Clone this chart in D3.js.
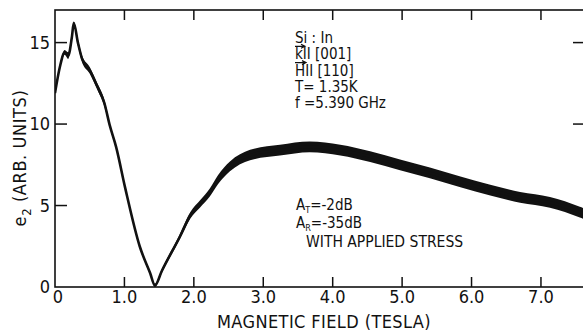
<!DOCTYPE html>
<html lang="en">
<head>
<meta charset="utf-8">
<title>e2 vs magnetic field</title>
<script src="https://cdn.jsdelivr.net/npm/d3@7/dist/d3.min.js"></script>
<style>
  body { margin: 0; background: #fff; }
  text { font-family: "DejaVu Sans Condensed", "Liberation Sans Narrow", "DejaVu Sans", sans-serif; fill: #111; }
</style>
</head>
<body>
<div id="chart"></div>
<script>
// field (tesla) and e2 (arb. units)
let field = [0.00, 0.07, 0.14, 0.19, 0.245, 0.27, 0.33, 0.39, 0.50, 0.61, 0.71, 0.79, 0.88, 1.01, 1.22, 1.37, 1.44,
             1.54, 1.80, 1.95, 2.09, 2.23, 2.35, 2.52, 2.81, 3.24, 3.67, 4.11, 4.54, 4.97, 5.40, 5.84, 6.27, 6.70, 7.13, 7.56, 7.62]
let e2 = [11.9, 13.5, 14.4, 14.2, 15.4, 16.2, 15.0, 14.0, 13.3, 12.3, 11.3, 9.9, 8.6, 6.1, 2.5, 0.86, 0.1,
          1.0, 3.1, 4.4, 5.1, 5.8, 6.6, 7.4, 8.1, 8.4, 8.6, 8.4, 8.0, 7.5, 7.0, 6.45, 5.95, 5.5, 5.2, 4.6, 4.5]
// half thickness of the noisy trace
let noise = [0.1, 0.15, 0.15, 0.2, 0.15, 0.1, 0.2, 0.2, 0.2, 0.2, 0.2, 0.12, 0.12, 0.1, 0.1, 0.1, 0.1,
             0.12, 0.15, 0.2, 0.22, 0.25, 0.28, 0.3, 0.32, 0.33, 0.33, 0.33, 0.33, 0.33, 0.33, 0.33, 0.33, 0.33, 0.33, 0.33, 0.33]

let xTicks = [0, 1, 2, 3, 4, 5, 6, 7]
let xTickLabels = ["0", "1.0", "2.0", "3.0", "4.0", "5.0", "6.0", "7.0"]
let yTicks = [0, 5, 10, 15]

let notes = ["Si : In", "kII [001]", "HII [110]", "T= 1.35K", "f =5.390 GHz"]

let w = 583, h = 331
let mLeft = 55, mTop = 10, mRight = 584, mBottom = 287

let svg = d3.select("#chart").append("svg")
    .attr("width", w).attr("height", h)

let x = d3.scaleLinear().domain([0, 7.62]).range([mLeft, mRight])
let y = d3.scaleLinear().domain([0, 17]).range([mBottom, mTop])

// frame
svg.append("rect")
    .attr("x", mLeft).attr("y", mTop)
    .attr("width", mRight - mLeft).attr("height", mBottom - mTop)
    .attr("fill", "none").attr("stroke", "#111").attr("stroke-width", 1.6)

// inward ticks
svg.append("g").selectAll("line").data(xTicks.slice(1)).join("line")
    .attr("x1", d => x(d)).attr("x2", d => x(d))
    .attr("y1", mBottom).attr("y2", mBottom - 10)
    .attr("stroke", "#111").attr("stroke-width", 1.5)
svg.append("g").selectAll("line").data(xTicks.slice(1)).join("line")
    .attr("x1", d => x(d)).attr("x2", d => x(d))
    .attr("y1", mTop).attr("y2", mTop + 10)
    .attr("stroke", "#111").attr("stroke-width", 1.5)
svg.append("g").selectAll("line").data(yTicks.slice(1)).join("line")
    .attr("x1", mLeft).attr("x2", mLeft + 12)
    .attr("y1", d => y(d)).attr("y2", d => y(d))
    .attr("stroke", "#111").attr("stroke-width", 1.5)
svg.append("g").selectAll("line").data([10, 15]).join("line")
    .attr("x1", mRight - 11).attr("x2", mRight)
    .attr("y1", d => y(d)).attr("y2", d => y(d))
    .attr("stroke", "#111").attr("stroke-width", 1.5)

// tick labels
svg.append("g").selectAll("text").data(xTicks).join("text")
    .attr("x", (d, i) => i == 0 ? x(d) + 3 : x(d))
    .attr("y", mBottom + 16)
    .attr("text-anchor", "middle")
    .attr("font-size", 18)
    .text((d, i) => xTickLabels[i])
svg.append("g").selectAll("text").data(yTicks).join("text")
    .attr("x", mLeft - 5)
    .attr("y", d => y(d) + 6)
    .attr("text-anchor", "end")
    .attr("font-size", 18)
    .text(d => d)

// axis titles
svg.append("text")
    .attr("x", 324).attr("y", 328)
    .attr("text-anchor", "middle")
    .attr("font-size", 18)
    .attr("letter-spacing", 0.4)
    .text("MAGNETIC FIELD (TESLA)")

let yt = svg.append("text")
    .attr("transform", "translate(26,158) rotate(-90)")
    .attr("text-anchor", "middle")
    .attr("font-size", 18)
    .attr("letter-spacing", 0.6)
yt.append("tspan").text("e")
yt.append("tspan").attr("font-size", 13).attr("dy", 5).text("2")
yt.append("tspan").attr("dy", -5).text(" (ARB. UNITS)")

// trace
let pts = field.map((f, i) => ({f: f, v: e2[i], n: noise[i]}))
let band = d3.area()
    .x(d => x(d.f))
    .y0(d => y(d.v - d.n))
    .y1(d => y(d.v + d.n))
    .curve(d3.curveMonotoneX)
let line = d3.line()
    .x(d => x(d.f))
    .y(d => y(d.v))
    .curve(d3.curveMonotoneX)

let clip = svg.append("clipPath").attr("id", "clip")
clip.append("rect").attr("x", mLeft).attr("y", mTop).attr("width", mRight - mLeft).attr("height", mBottom - mTop + 2)

svg.append("path").datum(pts)
    .attr("clip-path", "url(#clip)")
    .attr("d", band)
    .attr("fill", "#111")
svg.append("path").datum(pts)
    .attr("clip-path", "url(#clip)")
    .attr("d", line)
    .attr("fill", "none")
    .attr("stroke", "#111")
    .attr("stroke-width", 2.6)

// annotation block
let notesG = svg.append("g")
notes.forEach(function(s, i) {
  let base = 43 + i * 16.3
  notesG.append("text")
      .attr("x", 295).attr("y", base)
      .attr("font-size", 15)
      .text(s)
  if (i == 1 || i == 2) {
    // vector arrow over k / H
    let x0 = 295, x1 = i == 1 ? 305 : 306, ya = base - 13
    notesG.append("path")
        .attr("d", "M" + x0 + "," + ya + "H" + x1 + "M" + (x1 - 4) + "," + (ya - 2) + "L" + x1 + "," + ya + "L" + (x1 - 4) + "," + (ya + 2))
        .attr("fill", "none").attr("stroke", "#111").attr("stroke-width", 1.2)
  }
})

let at = svg.append("text").attr("x", 296).attr("y", 210).attr("font-size", 15)
at.append("tspan").text("A")
at.append("tspan").attr("font-size", 9).attr("dy", 3).text("T")
at.append("tspan").attr("dy", -3).text("=-2dB")
let ar = svg.append("text").attr("x", 296).attr("y", 228).attr("font-size", 15)
ar.append("tspan").text("A")
ar.append("tspan").attr("font-size", 9).attr("dy", 3).text("R")
ar.append("tspan").attr("dy", -3).text("=-35dB")
svg.append("text").attr("x", 306).attr("y", 247).attr("font-size", 15.5)
    .text("WITH APPLIED STRESS")
</script>
</body>
</html>
